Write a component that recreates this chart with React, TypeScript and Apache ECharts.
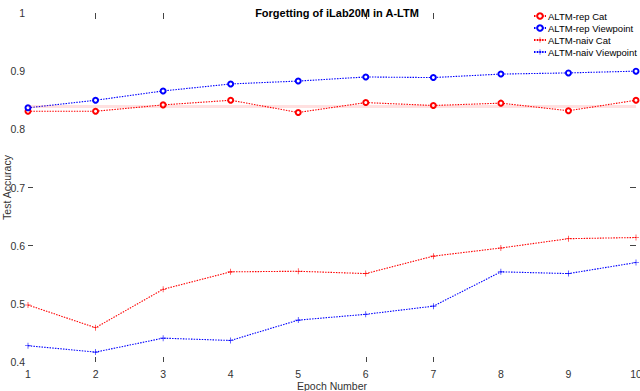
import React, { useEffect, useRef } from "react";
import * as echarts from "echarts";

const epochs = [1, 2, 3, 4, 5, 6, 7, 8, 9, 10];
const repCat = [0.831, 0.831, 0.842, 0.85, 0.829, 0.846, 0.841, 0.845, 0.832, 0.85];
const repView = [0.837, 0.85, 0.866, 0.878, 0.883, 0.89, 0.889, 0.895, 0.897, 0.9];
const naivCat = [0.498, 0.459, 0.525, 0.555, 0.556, 0.552, 0.582, 0.596, 0.612, 0.614];
const naivView = [0.428, 0.417, 0.441, 0.437, 0.472, 0.482, 0.496, 0.555, 0.552, 0.571];
const repCatBand = 0.8416;
const xTickValues = [2, 3, 6, 7];
const yTickValues = [0.6, 0.7];

const FONT = "Liberation Sans";
const PLUS = "path://M4.5,0 L5.5,0 L5.5,4.5 L10,4.5 L10,5.5 L5.5,5.5 L5.5,10 L4.5,10 L4.5,5.5 L0,5.5 L0,4.5 L4.5,4.5 Z";

export default function App() {
  const ref = useRef<HTMLDivElement>(null);
  useEffect(() => {
    if (!ref.current) return;
    const chart = echarts.init(ref.current, undefined, { renderer: "svg" });
    const pairs = (ys: number[]) => epochs.map((x, i) => [x, ys[i]]);
    const lineSeries = (name: string, ys: number[], color: string, symbol: string, size: number, bw: number, extra: any = {}) => ({
      name,
      type: "line",
      data: pairs(ys),
      symbol,
      symbolSize: size,
      showSymbol: true,
      lineStyle: { color, width: 1.1, type: [1.5, 1.2] },
      itemStyle: { color, borderColor: color, borderWidth: bw },
      emphasis: { disabled: true },
      ...extra,
    });
    chart.setOption({
      animation: false,
      textStyle: { fontFamily: FONT },
      title: {
        text: "Forgetting of iLab20M in A-LTM",
        left: 332,
        textAlign: "center",
        top: 2,
        textStyle: { fontSize: 11, fontWeight: "bold", color: "#000", fontFamily: FONT },
      },
      legend: {
        orient: "vertical",
        left: 533,
        top: 11,
        padding: 0,
        itemGap: 2,
        itemWidth: 12,
        itemHeight: 7,
        textStyle: { fontSize: 9.5, color: "#000", fontFamily: FONT, padding: [0, 0, 0, -3] },
        data: ["ALTM-rep Cat", "ALTM-rep Viewpoint", "ALTM-naiv Cat", "ALTM-naiv Viewpoint"],
      },
      grid: { left: 28, right: 4, top: 13, bottom: 29, containLabel: false, outerBoundsMode: "none" },
      xAxis: [
        {
          type: "value",
          min: 1,
          max: 10,
          interval: 1,
          name: "Epoch Number",
          nameLocation: "middle",
          nameGap: 18,
          nameMoveOverlap: false,
          nameTextStyle: { fontSize: 10.5, color: "#333", fontFamily: FONT },
          axisLine: { show: false },
          splitLine: { show: false },
          axisTick: { show: true, inside: true, length: 5, customValues: xTickValues, lineStyle: { color: "#444" } },
          axisLabel: { fontSize: 10.5, color: "#333", margin: 6, fontFamily: FONT },
        },
        {
          type: "value",
          position: "top",
          min: 1,
          max: 10,
          interval: 1,
          axisLine: { show: false },
          splitLine: { show: false },
          axisTick: { show: true, inside: true, length: 6, customValues: xTickValues, lineStyle: { color: "#444" } },
          axisLabel: { show: false },
        },
      ],
      yAxis: [
        {
          type: "value",
          min: 0.4,
          max: 1,
          interval: 0.1,
          name: "Test Accuracy",
          nameLocation: "middle",
          nameGap: 16,
          nameMoveOverlap: false,
          nameRotate: 90,
          nameTextStyle: { fontSize: 10.5, color: "#333", fontFamily: FONT },
          axisLine: { show: false },
          splitLine: { show: false },
          axisTick: { show: true, inside: true, length: 5, customValues: yTickValues, lineStyle: { color: "#444" } },
          axisLabel: {
            fontSize: 10.5,
            color: "#333",
            margin: 3,
            fontFamily: FONT,
            formatter: (v: number) => (Math.abs(v - 1) < 1e-9 ? "1" : v.toFixed(1)),
          },
        },
        {
          type: "value",
          position: "right",
          min: 0.4,
          max: 1,
          interval: 0.1,
          axisLine: { show: false },
          splitLine: { show: false },
          axisTick: { show: true, inside: true, length: 6, customValues: yTickValues, lineStyle: { color: "#444" } },
          axisLabel: { show: false },
        },
      ],
      series: [
        lineSeries("ALTM-rep Cat", repCat, "#ff0000", "emptyCircle", 5, 1.2, {
          markLine: {
            silent: true,
            symbol: "none",
            label: { show: false },
            lineStyle: { color: "rgba(255,0,0,0.12)", width: 3, type: "solid" },
            data: [{ yAxis: repCatBand }],
          },
        }),
        lineSeries("ALTM-rep Viewpoint", repView, "#0000ff", "emptyCircle", 5, 1.2),
        lineSeries("ALTM-naiv Cat", naivCat, "#ff0000", PLUS, 6, 0),
        lineSeries("ALTM-naiv Viewpoint", naivView, "#0000ff", PLUS, 6, 0),
      ],
    });
    return () => chart.dispose();
  }, []);
  return <div ref={ref} style={{ width: 640, height: 391, position: "absolute", left: 0, top: 0 }} />;
}
